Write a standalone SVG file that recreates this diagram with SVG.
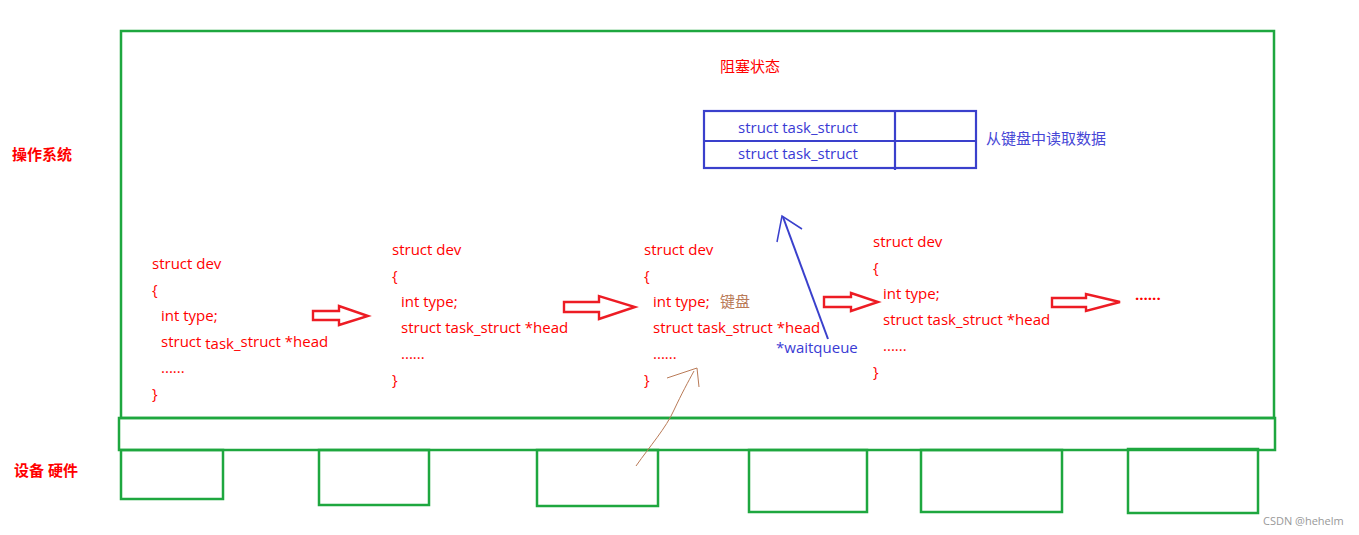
<svg xmlns="http://www.w3.org/2000/svg" width="1359" height="535" viewBox="0 0 1359 535">
<style>
text{font-family:"Open Sans","Noto Sans CJK SC",sans-serif;font-size:15px}
.r{fill:#f00}
.b{fill:#3a3ad4}
.lbl{font-weight:bold;font-size:15px;fill:#f00}
.g{fill:none;stroke:#1ea73f;stroke-width:2.5}
.tb{fill:none;stroke:#3a40cc;stroke-width:2.2}
.ha{fill:#fff;stroke:#ed1c24;stroke-width:2.4;stroke-linejoin:miter}
.br{fill:none;stroke:#b97a57;stroke-width:1}
</style>
<rect width="1359" height="535" fill="#fff"/>
<g id="os-frame">
<rect class="g" x="121" y="31" width="1153" height="387"/>
<text class="lbl" x="12" y="160">操作系统</text>
<text class="r" x="720" y="72">阻塞状态</text>
</g>
<g id="bus">
<rect class="g" x="119" y="418" width="1156" height="32"/>
</g>
<g id="hardware">
<text class="lbl" x="14" y="476">设备 硬件</text>
<rect class="g" x="121" y="450" width="102" height="49"/>
<rect class="g" x="319" y="450" width="110" height="55"/>
<rect class="g" x="537" y="450" width="121" height="56"/>
<rect class="g" x="749" y="450" width="118" height="62"/>
<rect class="g" x="921" y="450" width="141" height="62"/>
<rect class="g" x="1128" y="449" width="130" height="64"/>
</g>
<g id="wait-queue">
<rect class="tb" x="704" y="111" width="272" height="57"/>
<line class="tb" x1="704" y1="141" x2="976" y2="141"/>
<line class="tb" x1="895" y1="111" x2="895" y2="170"/>
<text class="b" x="738" y="133">struct task_struct</text>
<text class="b" x="738" y="159">struct task_struct</text>
<text class="b" x="986" y="144" style="fill:#4646d6">从键盘中读取数据</text>
</g>
<g id="dev1">
<text class="r" x="152" y="269">struct dev</text>
<text class="r" x="152" y="295">{</text>
<text class="r" x="161" y="321">int type;</text>
<text class="r" x="161" y="347">struct <tspan dy="2">task_</tspan><tspan dy="-2">struct *head</tspan></text>
<text class="r" x="161" y="373">......</text>
<text class="r" x="152" y="399">}</text>
</g>
<g id="dev2">
<text class="r" x="392" y="255">struct dev</text>
<text class="r" x="392" y="281">{</text>
<text class="r" x="401" y="307">int type;</text>
<text class="r" x="401" y="333">struct task<tspan dy="1">_</tspan><tspan dy="-1">struct *head</tspan></text>
<text class="r" x="401" y="359">......</text>
<text class="r" x="392" y="385">}</text>
</g>
<g id="dev3">
<text class="r" x="644" y="255">struct dev</text>
<text class="r" x="644" y="281">{</text>
<text class="r" x="653" y="307">int type;</text>
<text x="720" y="307" style="fill:#b97a57">键盘</text>
<text class="r" x="653" y="333">struct task<tspan dy="1">_</tspan><tspan dy="-1">struct *head</tspan></text>
<text class="b" x="776" y="353">*waitqueue</text>
<text class="r" x="653" y="359">......</text>
<text class="r" x="644" y="385">}</text>
</g>
<g id="dev4">
<text class="r" x="873" y="247">struct dev</text>
<text class="r" x="873" y="273">{</text>
<text class="r" x="883" y="299">int type;</text>
<text class="r" x="883" y="325">struct task<tspan dy="1">_</tspan><tspan dy="-1">struct *head</tspan></text>
<text class="r" x="883" y="351">......</text>
<text class="r" x="873" y="377">}</text>
</g>
<g id="more">
<text class="r" x="1135" y="300" style="font-weight:bold">......</text>
</g>
<g id="connectors">
<polygon class="ha" points="313,311 339,311 339,306 368,316 339,325 339,320 313,320"/>
<polygon class="ha" points="564,302 599,302 599,296 635,307 599,319 599,312 564,312"/>
<polygon class="ha" points="824,297 851,297 851,293 878,302 851,311 851,307 824,307"/>
<polygon class="ha" points="1052,298 1086,298 1086,294 1120,302 1086,311 1086,307 1052,307"/>
<line x1="828" y1="339" x2="783" y2="217" stroke="#3a40cc" stroke-width="2"/>
<polyline points="777,242 782,216 802,229" fill="none" stroke="#3a40cc" stroke-width="1.5"/>
<path class="br" d="M636,466 C650,446 666,428 674,410 C682,393 688,382 694,371"/>
<polyline class="br" points="667,378 697,368 699,387"/>
</g>
<text x="1263" y="525" style="font-size:11px;fill:#999">CSDN @hehelm</text>
</svg>
